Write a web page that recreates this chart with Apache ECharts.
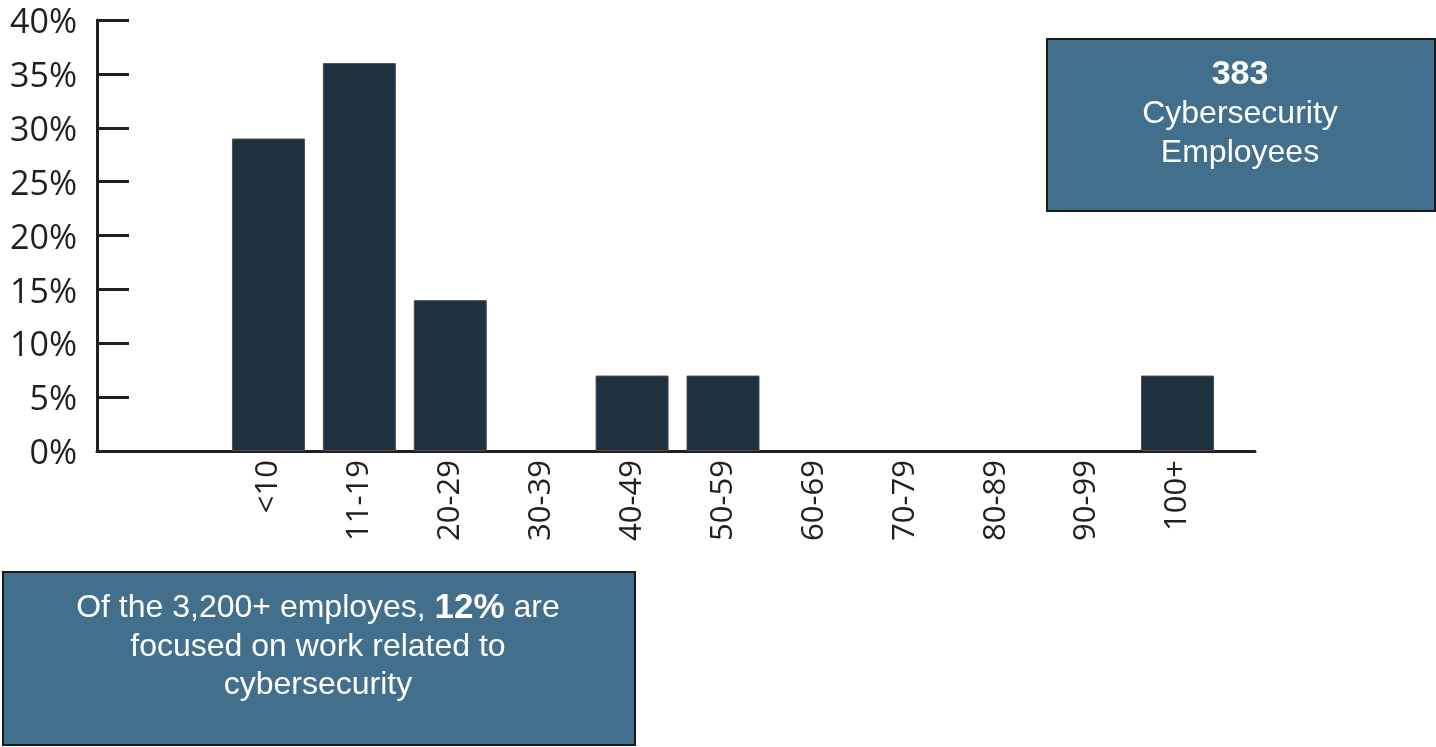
<!DOCTYPE html>
<html>
<head>
<meta charset="utf-8">
<script src="https://cdn.jsdelivr.net/npm/echarts@6/dist/echarts.min.js"></script>
<style>
  html, body { margin: 0; padding: 0; background: #ffffff; }
  #chart { width: 1436px; height: 747px; }
</style>
</head>
<body>
<div id="chart"></div>
<script>
// Age-range buckets and the share of employees in each (percent)
const categories = ['<10', '11-19', '20-29', '30-39', '40-49', '50-59', '60-69', '70-79', '80-89', '90-99', '100+'];
const shares = [29, 36, 14, 0, 7, 7, 0, 0, 0, 0, 7];
const yTicks = { min: 0, max: 40, step: 5 };

const headline = '383';
const headlineCaption = ['Cybersecurity', 'Employees'];
const noteLines = ['Of the 3,200+ employes, {b|12%} are', 'focused on work related to', 'cybersecurity'];

const ink = '#231f20';
const barFill = '#1e313f';
const boxFill = '#426f8c';

// empty buckets get no outline so nothing shows along the baseline
const barData = shares.map(v => (v === 0 ? { value: v, itemStyle: { borderWidth: 0, opacity: 0 } } : v));

const chart = echarts.init(document.getElementById('chart'), null, { renderer: 'canvas' });

chart.setOption({
  backgroundColor: '#ffffff',
  animation: false,
  grid: [
    // frame carrying the axis lines and the percentage scale
    { left: 97, right: 181, top: 20, bottom: 296 },
    // plotting area for the category bars
    { left: 223, right: 213, top: 20, bottom: 296 }
  ],
  xAxis: [
    {
      gridIndex: 0, type: 'value', min: 0, max: 1,
      axisLine: { show: true, lineStyle: { color: ink, width: 3 } },
      axisTick: { show: false }, axisLabel: { show: false }, splitLine: { show: false }
    },
    {
      gridIndex: 1, type: 'category', data: categories,
      axisLine: { show: false }, axisTick: { show: false },
      axisLabel: {
        rotate: 90, margin: 9, color: ink,
        fontFamily: 'Open Sans', fontSize: 31, interval: 0
      }
    }
  ],
  yAxis: [
    {
      gridIndex: 0, type: 'value', min: yTicks.min, max: yTicks.max, interval: yTicks.step,
      axisLine: { show: true, lineStyle: { color: ink, width: 3 } },
      axisTick: { show: true, inside: true, length: 32, lineStyle: { color: ink, width: 3 } },
      axisLabel: {
        formatter: '{p|{value}%}', margin: 20, color: ink,
        fontFamily: 'Open Sans', fontSize: 34,
        rich: { p: { fontFamily: 'Open Sans', fontSize: 34, color: ink, padding: [7, 0, 0, 0] } }
      },
      splitLine: { show: false }
    },
    { gridIndex: 1, type: 'value', min: yTicks.min, max: yTicks.max, show: false }
  ],
  series: [
    {
      type: 'bar', xAxisIndex: 1, yAxisIndex: 1,
      data: barData, barWidth: 73,
      itemStyle: { color: barFill, borderColor: '#4d4d4d', borderWidth: 1 }
    }
  ],
  graphic: [
    {
      type: 'group',
      children: [
        {
          type: 'rect',
          shape: { x: 1047, y: 39, width: 388, height: 172 },
          style: { fill: boxFill, stroke: '#1a1a1a', lineWidth: 2 }
        },
        {
          type: 'text',
          x: 1240, y: 114,
          style: {
            text: '{b|' + headline + '}\n' + headlineCaption.join('\n'),
            fill: '#ffffff', align: 'center', verticalAlign: 'middle',
            font: '32px "Liberation Sans", Arial, sans-serif',
            lineHeight: 39.5,
            rich: {
              b: { fontWeight: 'bold', fontSize: 34, fill: '#ffffff', lineHeight: 39.5,
                   fontFamily: '"Liberation Sans", Arial, sans-serif' }
            }
          }
        }
      ]
    },
    {
      type: 'group',
      children: [
        {
          type: 'rect',
          shape: { x: 3, y: 572, width: 632, height: 173 },
          style: { fill: boxFill, stroke: '#1a1a1a', lineWidth: 2 }
        },
        {
          type: 'text',
          x: 318, y: 647,
          style: {
            text: noteLines.join('\n'),
            fill: '#ffffff', align: 'center', verticalAlign: 'middle',
            font: '32px "Liberation Sans", Arial, sans-serif',
            lineHeight: 38.5,
            rich: {
              b: { fontWeight: 'bold', fontSize: 35, fill: '#ffffff', lineHeight: 38.5,
                   fontFamily: '"Liberation Sans", Arial, sans-serif' }
            }
          }
        }
      ]
    }
  ]
});
</script>
</body>
</html>
